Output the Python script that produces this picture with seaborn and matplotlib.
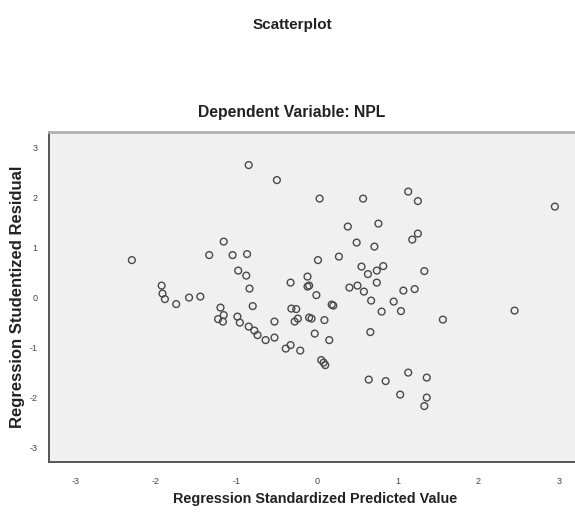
import matplotlib
matplotlib.use("Agg")
import matplotlib.pyplot as plt
import seaborn as sns
import pandas as pd

# values
pred_std = [
    -0.85, -0.50, -1.16, -1.34, -1.05, -0.87, -0.98, -0.88, -2.30, -1.93,
    -1.92, -1.89, -1.75, -1.59, -1.45, -0.84, -1.20, -1.16, -1.23, -1.17,
    -0.80, -0.99, -0.96, -0.85, -0.78, -0.74, -0.64, -0.53, -0.53, -0.39,
    -0.33, -0.21, -0.32, -0.26, -0.24, -0.28, -0.10, -0.07, 0.09, -0.33,
    -0.12, -0.12, -0.10, -0.01, 0.18, 0.20, -0.03, 0.15, 0.05, 0.08,
    0.10, 0.03, 0.57, 1.13, 1.25, 0.38, 0.76, 0.49, 0.71, 1.25,
    1.18, 0.01, 0.27, 0.55, 0.82, 0.63, 0.74, 0.74, 1.33, 0.40,
    0.50, 0.58, 0.67, 0.80, 0.95, 1.04, 1.07, 1.21, 0.66, 1.56,
    2.45, 2.95, 0.64, 0.85, 1.13, 1.36, 1.03, 1.36, 1.33,
]
resid_stud = [
    2.64, 2.34, 1.11, 0.84, 0.84, 0.86, 0.53, 0.43, 0.74, 0.23,
    0.07, -0.04, -0.14, -0.01, 0.01, 0.17, -0.21, -0.36, -0.44, -0.49,
    -0.18, -0.39, -0.51, -0.59, -0.67, -0.76, -0.86, -0.81, -0.49, -1.03,
    -0.96, -1.07, -0.23, -0.24, -0.43, -0.49, -0.41, -0.43, -0.46, 0.29,
    0.41, 0.21, 0.23, 0.04, -0.15, -0.17, -0.73, -0.86, -1.26, -1.31,
    -1.36, 1.97, 1.97, 2.11, 1.92, 1.41, 1.47, 1.09, 1.01, 1.27,
    1.15, 0.74, 0.81, 0.61, 0.62, 0.46, 0.53, 0.29, 0.52, 0.19,
    0.23, 0.11, -0.07, -0.29, -0.09, -0.28, 0.13, 0.16, -0.70, -0.45,
    -0.27, 1.81, -1.65, -1.68, -1.51, -1.61, -1.95, -2.01, -2.18,
]
ticks = [-3, -2, -1, 0, 1, 2, 3]

df = pd.DataFrame({"pred": pred_std, "resid": resid_stud})

sns.set_style("white")
plt.rcParams["font.family"] = ["Liberation Sans", "DejaVu Sans"]
plt.rcParams["axes.unicode_minus"] = False

fig = plt.figure(figsize=(5.75, 5.14), dpi=100)
ax = fig.add_axes([0.085, 0.101, 0.915, 0.642])
ax.set_facecolor("#f0f0f0")

sns.scatterplot(data=df, x="pred", y="resid", ax=ax, marker="o", s=24,
                facecolor="none", edgecolor="#4a4a4a", linewidth=1.0)

ax.set_xlim(-3.33, 3.2)
ax.set_ylim(-3.3, 3.3)
ax.set_xticks(ticks)
ax.set_yticks(ticks)
ax.set_xticklabels([str(t) for t in ticks])
ax.set_yticklabels([str(t) for t in ticks])
ax.tick_params(axis="both", direction="out", length=5, width=1,
               color="#555555", labelsize=6.5, labelcolor="#444444")
ax.tick_params(axis="x", pad=6)
ax.tick_params(axis="y", pad=3)

for side in ["left", "bottom"]:
    ax.spines[side].set_color("#555555")
    ax.spines[side].set_linewidth(1.4)
ax.spines["top"].set_color("#b0b0b0")
ax.spines["top"].set_linewidth(2)
ax.spines["right"].set_visible(False)

ax.set_xlabel("Regression Standardized Predicted Value", fontsize=10.4,
              fontweight="bold", color="#222222")
ax.set_ylabel("Regression Studentized Residual", fontsize=12,
              fontweight="bold", color="#222222")
ax.xaxis.set_label_coords(0.506, -0.09)
ax.yaxis.set_label_coords(-0.045, 0.5)

fig.text(0.509, 0.951, "Scatterplot", ha="center", va="center",
         fontsize=11, fontweight="bold", color="#222222")
fig.text(0.507, 0.782, "Dependent Variable: NPL", ha="center", va="center",
         fontsize=11.3, fontweight="bold", color="#222222")

fig.savefig("out.png", dpi=100, facecolor="white")
